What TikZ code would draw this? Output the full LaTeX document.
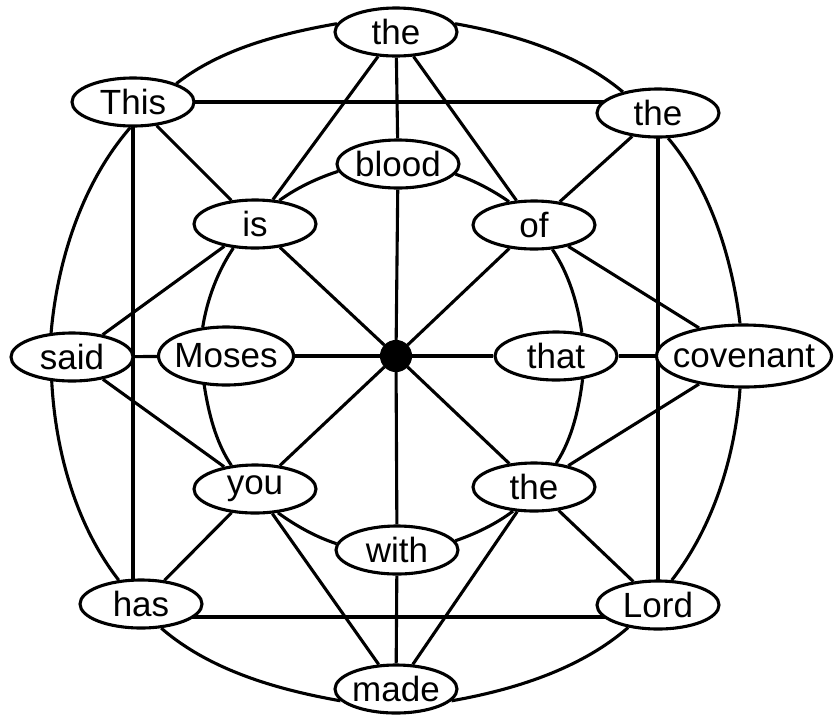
\documentclass[tikz,border=0pt]{standalone}
\usepackage{fontspec}
\setmainfont{Liberation Sans}
\usetikzlibrary{shapes.geometric,backgrounds}
\begin{document}
\begin{tikzpicture}[x=1pt,y=-1pt,line width=3.1pt,
  word/.style={draw,ellipse,fill=white,inner sep=0pt,minimum width=122pt,minimum height=48pt,
    font=\fontsize{35}{42}\selectfont},
  wide/.style={word,minimum width=135pt,minimum height=58pt},
  wider/.style={word,minimum width=175pt,minimum height=62pt},
  hub/.style={circle,draw,fill=black,inner sep=0pt,minimum size=29pt},
  link/.style={draw=black,line width=3.1pt},
  ring/.style={link,looseness=0.85}]
\useasboundingbox (0,0) rectangle (834,716);
% outer ring
\node[word]  (theT)  at (396,32)  {\makebox[0pt]{the}};
\node[word]  (theTR) at (658,113) {\makebox[0pt]{the}};
\node[wider] (cov)   at (744,356) {\makebox[0pt]{covenant}};
\node[word]  (Lord)  at (658,605) {\makebox[0pt]{Lord}};
\node[word]  (made)  at (396,689) {\makebox[0pt]{made}};
\node[word]  (has)   at (141,604) {\makebox[0pt]{has}};
\node[word]  (said)  at (72,357)  {\makebox[0pt]{said}};
\node[word]  (This)  at (133,102) {\makebox[0pt]{This}};
% inner ring
\node[word]  (blood) at (398,164) {\makebox[0pt]{blood}};
\node[word]  (of)    at (534,225) {\makebox[0pt]{of}};
\node[word]  (that)  at (556,356) {\makebox[0pt]{that}};
\node[word]  (theI)  at (534,487) {\makebox[0pt]{the}};
\node[word]  (with)  at (397,550) {\makebox[0pt]{with}};
\node[word]  (you)   at (255,489) {\makebox[0pt]{you}};
\node[wide]  (Moses) at (226,356) {\makebox[0pt]{Moses}};
\node[word]  (is)    at (255,224) {\makebox[0pt]{is}};
\node[hub]   (ctr)   at (396,356) {};
\coordinate (sqb) at ([yshift=-12pt]Lord.center);
\begin{scope}[on background layer]
% square
\draw[link] (This.center) -- (This.center -| theTR.center) -- (Lord.center |- sqb)
  -- (This.center |- sqb) -- cycle;
\end{scope}
% outer ring arcs
\draw[ring] (This.23) to[out=38,in=190] (theT.172);
\draw[ring] (theT.8) to[out=-10,in=140] (theTR.149);
\draw[ring] (theTR.-68) to[out=-50,in=97] (cov.97);
\draw[ring] (cov.-97) to[out=-94,in=52] (Lord.61);
\draw[ring] (Lord.217) to[out=221,in=10] (made.-12);
\draw[ring] (made.192) to[out=170,in=-41] (has.-50);
\draw[ring] (has.133) to[out=128,in=-87] (said.230);
\draw[ring] (said.131) to[out=85,in=229] (This.-96);
% inner ring arcs
\draw[ring] (is.44) to[out=36,in=198] (blood.187);
\draw[ring] (blood.-10) to[out=-19,in=145] (of.137);
\draw[ring] (of.-53) to[out=-56,in=98] (that.42);
\draw[ring] (that.-41) to[out=-97,in=57] (theI.47);
\draw[ring] (theI.229) to[out=217,in=19] (with.9);
\draw[ring] (with.174) to[out=162,in=-36] (you.-46);
\draw[ring] (you.135) to[out=124,in=-81] (Moses.233);
\draw[ring] (Moses.129) to[out=81,in=236] (is.228);
% spokes
\foreach \a/\b in {ctr/blood,ctr/of,ctr/that,ctr/theI,ctr/with,ctr/you,ctr/Moses,ctr/is,
  blood/theT,of/theTR,that/cov,theI/Lord,with/made,you/has,Moses/said,is/This,
  is/theT,is/said,of/theT,of/cov,theI/cov,theI/made,you/said,you/made}
  \draw[link] (\a) -- (\b);
\end{tikzpicture}
\end{document}
